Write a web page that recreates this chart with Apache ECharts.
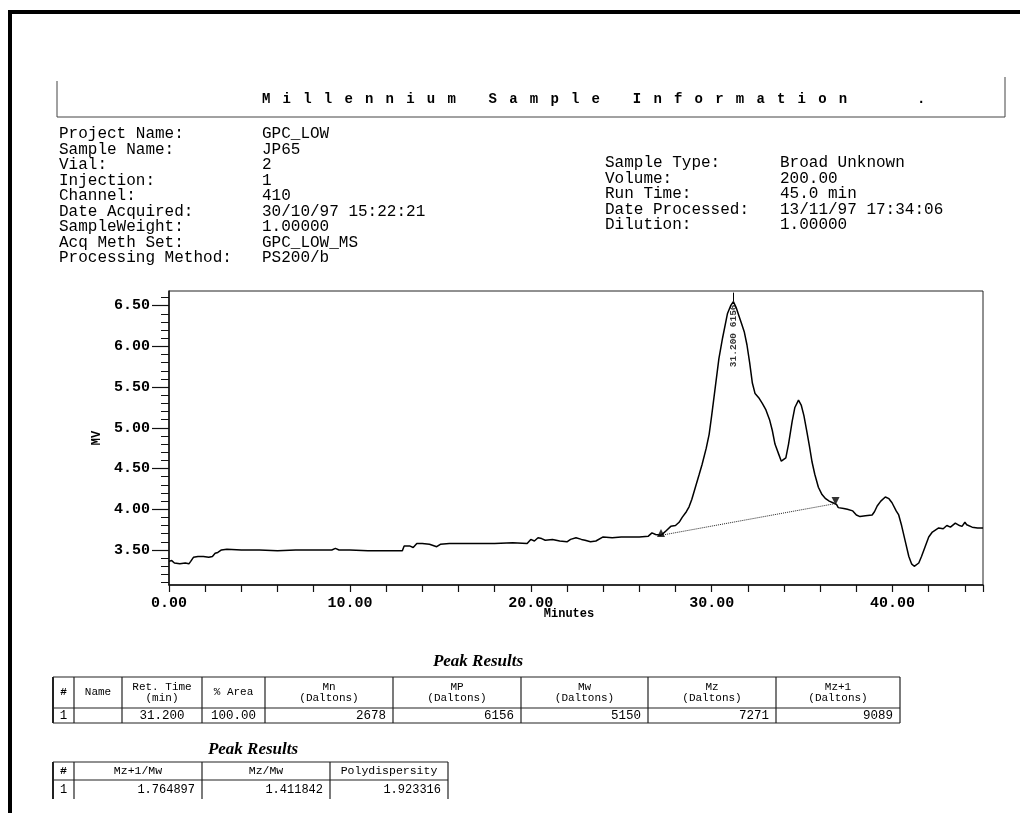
<!DOCTYPE html>
<html>
<head>
<meta charset="utf-8">
<script src="https://cdn.jsdelivr.net/npm/echarts@6/dist/echarts.min.js"></script>
<style>
html,body{margin:0;padding:0;background:#fff;}
#main{width:1020px;height:813px;}
</style>
</head>
<body>
<div id="main"></div>
<script>
// ---------- DATA ----------
const reportTitle = 'Millennium Sample Information';
const infoLabelsLeft = ['Project Name:', 'Sample Name:', 'Vial:', 'Injection:', 'Channel:', 'Date Acquired:', 'SampleWeight:', 'Acq Meth Set:', 'Processing Method:'];
const infoValuesLeft = ['GPC_LOW', 'JP65', '2', '1', '410', '30/10/97 15:22:21', '1.00000', 'GPC_LOW_MS', 'PS200/b'];
const infoLabelsRight = ['Sample Type:', 'Volume:', 'Run Time:', 'Date Processed:', 'Dilution:'];
const infoValuesRight = ['Broad Unknown', '200.00', '45.0 min', '13/11/97 17:34:06', '1.00000'];

const timeMin = [0.00,0.15,0.30,0.60,0.90,1.10,1.20,1.35,1.60,1.90,2.20,2.40,2.55,2.70,2.90,3.20,4.00,5.00,6.00,7.00,8.00,9.00,9.20,9.40,10.00,11.00,12.00,12.90,13.00,13.30,13.50,13.70,14.00,14.40,14.80,15.00,15.50,16.00,17.00,18.00,19.00,19.80,20.00,20.20,20.40,20.60,20.80,21.20,21.60,22.00,22.20,22.50,22.80,23.00,23.30,23.60,24.00,24.50,25.00,25.50,26.00,26.50,26.70,26.90,27.20,27.50,27.74,28.00,28.20,28.37,28.60,28.75,28.90,29.10,29.30,29.47,29.70,29.86,30.00,30.20,30.40,30.60,30.87,31.05,31.20,31.35,31.50,31.65,31.80,31.95,32.10,32.25,32.40,32.60,32.80,33.00,33.20,33.35,33.50,33.70,33.85,33.95,34.10,34.25,34.45,34.60,34.80,34.95,35.10,35.25,35.40,35.55,35.70,35.90,36.10,36.30,36.50,36.70,36.90,37.00,37.30,37.50,37.80,38.00,38.20,38.50,38.87,39.00,39.15,39.35,39.60,39.80,39.97,40.20,40.34,40.50,40.71,40.90,41.05,41.20,41.45,41.60,41.80,42.00,42.20,42.55,42.80,43.00,43.20,43.47,43.70,43.84,44.00,44.10,44.40,44.70,45.00];
const signalMV = [3.36,3.37,3.34,3.33,3.34,3.33,3.36,3.41,3.42,3.42,3.41,3.42,3.46,3.47,3.50,3.51,3.50,3.50,3.49,3.50,3.50,3.50,3.52,3.50,3.50,3.49,3.49,3.49,3.55,3.55,3.53,3.58,3.58,3.57,3.54,3.57,3.58,3.58,3.58,3.58,3.59,3.58,3.63,3.61,3.65,3.64,3.62,3.63,3.61,3.60,3.63,3.65,3.63,3.62,3.60,3.61,3.66,3.65,3.66,3.66,3.66,3.67,3.71,3.69,3.68,3.74,3.79,3.80,3.84,3.90,3.97,4.03,4.12,4.27,4.42,4.55,4.75,4.92,5.15,5.50,5.85,6.10,6.40,6.50,6.55,6.48,6.38,6.28,6.18,6.02,5.80,5.55,5.42,5.37,5.30,5.22,5.10,4.97,4.80,4.68,4.59,4.57,4.63,4.80,5.08,5.25,5.34,5.28,5.15,4.97,4.78,4.58,4.43,4.27,4.18,4.13,4.10,4.08,4.06,4.02,4.01,4.00,3.98,3.93,3.91,3.92,3.93,3.97,4.04,4.10,4.15,4.13,4.08,3.98,3.93,3.80,3.60,3.42,3.33,3.30,3.34,3.42,3.54,3.66,3.72,3.77,3.76,3.80,3.78,3.83,3.80,3.79,3.84,3.81,3.78,3.77,3.77];

const baselineStart = [27.2, 3.68];
const baselineEnd = [36.85, 4.07];
const peakRetTime = 31.2;
const peakApex = 6.55;
const peakLabel = '31.200 6156';

const xLabelTicks = [0, 10, 20, 30, 40];
const yMajorTicks = [3.50, 4.00, 4.50, 5.00, 5.50, 6.00, 6.50];
const yMinorTicks = [3.1,3.2,3.3,3.4,3.6,3.7,3.8,3.9,4.1,4.2,4.3,4.4,4.6,4.7,4.8,4.9,5.1,5.2,5.3,5.4,5.6,5.7,5.8,5.9,6.1,6.2,6.3,6.4,6.6];

const table1Title = 'Peak Results';
const table1Headers = ['#', 'Name', 'Ret. Time\n(min)', '% Area', 'Mn\n(Daltons)', 'MP\n(Daltons)', 'Mw\n(Daltons)', 'Mz\n(Daltons)', 'Mz+1\n(Daltons)'];
const table1Row = ['1', '', '31.200', '100.00', '2678', '6156', '5150', '7271', '9089'];
const table2Title = 'Peak Results';
const table2Headers = ['#', 'Mz+1/Mw', 'Mz/Mw', 'Polydispersity'];
const table2Row = ['1', '1.764897', '1.411842', '1.923316'];

// ---------- LAYOUT ----------
const INK = '#000';
const MONO = '"Liberation Mono","DejaVu Sans Mono",monospace';
const g = [];

// document frame
g.push({type:'rect', shape:{x:8, y:10, width:1012, height:4}, style:{fill:'#000'}});
g.push({type:'rect', shape:{x:8, y:10, width:4, height:803}, style:{fill:'#000'}});
// header box
g.push({type:'polyline', shape:{points:[[57,81],[57,117],[1005,117],[1005,77]]}, style:{stroke:'#444', lineWidth:1, fill:null}});
// header title (letter-spaced)
for (let i = 0; i < reportTitle.length; i++) {
  const ch = reportTitle[i];
  if (ch === ' ') continue;
  g.push({type:'text', x:262 + i*20.6, y:99, style:{text:ch, font:'bold 14px ' + MONO, fill:INK, textVerticalAlign:'middle'}});
}
g.push({type:'text', x:917, y:99, style:{text:'.', font:'bold 14px ' + MONO, fill:INK, textVerticalAlign:'middle'}});

// info blocks
infoLabelsLeft.forEach((t, i) => {
  g.push({type:'text', x:59, y:134 + i*15.5, style:{text:t, font:'16px ' + MONO, fill:INK, textVerticalAlign:'middle'}});
  g.push({type:'text', x:262, y:134 + i*15.5, style:{text:infoValuesLeft[i], font:'16px ' + MONO, fill:INK, textVerticalAlign:'middle'}});
});
infoLabelsRight.forEach((t, i) => {
  g.push({type:'text', x:605, y:163 + i*15.5, style:{text:t, font:'16px ' + MONO, fill:INK, textVerticalAlign:'middle'}});
  g.push({type:'text', x:780, y:163 + i*15.5, style:{text:infoValuesRight[i], font:'16px ' + MONO, fill:INK, textVerticalAlign:'middle'}});
});

// Minutes label
g.push({type:'text', x:569, y:614, style:{text:'Minutes', font:'bold 12px ' + MONO, fill:INK, textAlign:'center', textVerticalAlign:'middle'}});

// tables
function drawTable(title, titleX, titleY, cols, top, sep, bottom, vBottom, headers, row, hFont, vFont, rightAlignFrom, centerCols) {
  g.push({type:'text', x:titleX, y:titleY, style:{text:title, font:'italic bold 17px "Liberation Serif","DejaVu Serif",serif', fill:INK, textAlign:'center', textVerticalAlign:'middle'}});
  const x0 = cols[0], xn = cols[cols.length-1];
  const lines = [[top],[sep]];
  if (bottom) lines.push([bottom]);
  lines.forEach(l => g.push({type:'line', shape:{x1:x0, y1:l[0], x2:xn, y2:l[0]}, style:{stroke:'#222', lineWidth:1.2}}));
  cols.forEach((c, k) => g.push({type:'line', shape:{x1:c, y1:top, x2:c, y2:vBottom}, style:{stroke:'#222', lineWidth:k===0?2:1.2}}));
  for (let k = 0; k < cols.length - 1; k++) {
    const cx = (cols[k] + cols[k+1]) / 2;
    g.push({type:'text', x:cx, y:(top+sep)/2, style:{text:headers[k], font:(k===0?'bold ':'') + hFont, fill:INK, textAlign:'center', textVerticalAlign:'middle', lineHeight:11}});
    const rowY = (sep + (bottom || vBottom)) / 2;
    if (k >= rightAlignFrom) {
      g.push({type:'text', x:cols[k+1] - 7, y:rowY, style:{text:row[k], font:vFont, fill:INK, textAlign:'right', textVerticalAlign:'middle'}});
    } else {
      g.push({type:'text', x:cx, y:rowY, style:{text:row[k], font:vFont, fill:INK, textAlign:'center', textVerticalAlign:'middle'}});
    }
  }
}
drawTable(table1Title, 478, 662, [53,74,122,202,265,393,521,648,776,900], 677, 708, 723, 723,
  table1Headers, table1Row, '11px ' + MONO, '12.5px ' + MONO, 4, [0,2,3]);
drawTable(table2Title, 253, 750, [53,74,202,330,448], 762, 780, null, 799,
  table2Headers, table2Row, '11.5px ' + MONO, '12px ' + MONO, 1, [0]);

// ---------- CHART ----------
const chart = echarts.init(document.getElementById('main'), null, {renderer:'canvas', width:1020, height:813});
const trace = timeMin.map((t, i) => [t, signalMV[i]]);

chart.setOption({
  animation: false,
  backgroundColor: '#fff',
  grid: {left:169, top:291, right:37, bottom:228, show:true, borderColor:'#222', borderWidth:1, backgroundColor:'transparent'},
  xAxis: {
    type:'value', min:0, max:45, interval:2,
    axisLine:{show:true, lineStyle:{color:'#111', width:1.5}},
    axisTick:{show:true, length:7, inside:false, lineStyle:{color:'#111', width:1.2}},
    axisLabel:{show:true, margin:11, color:INK, fontFamily:'Liberation Mono', fontWeight:'bold', fontSize:15,
      formatter: v => xLabelTicks.indexOf(v) >= 0 ? v.toFixed(2) : ''},
    splitLine:{show:false}
  },
  yAxis: [{
    type:'value', min:3.07, max:6.68,
    name:'MV', nameLocation:'middle', nameGap:63, nameRotate:90,
    nameTextStyle:{color:INK, fontFamily:'Liberation Mono', fontWeight:'bold', fontSize:12},
    axisLine:{show:true, lineStyle:{color:'#111', width:1.5}},
    axisTick:{show:true, length:17, customValues:yMajorTicks, lineStyle:{color:'#111', width:1.2}},
    axisLabel:{show:true, margin:19, customValues:yMajorTicks, color:INK, fontFamily:'Liberation Mono', fontWeight:'bold', fontSize:15,
      formatter: v => v.toFixed(2)},
    splitLine:{show:false}
  }, {
    type:'value', min:3.07, max:6.68, position:'left', offset:0,
    axisLine:{show:false},
    axisTick:{show:true, length:8, customValues:yMinorTicks, lineStyle:{color:'#111', width:1}},
    axisLabel:{show:false},
    splitLine:{show:false}
  }],
  series: [{
    type:'line', data:trace, symbol:'none', silent:true,
    lineStyle:{color:'#000', width:1.5},
    markLine:{silent:true, symbol:'none', label:{show:false},
      lineStyle:{color:'#000', width:1, type:'solid'},
      data:[[{coord:[peakRetTime, peakApex]}, {coord:[peakRetTime, 6.66]}]]}
  }, {
    type:'line', data:[baselineStart, baselineEnd], symbol:'none', silent:true,
    lineStyle:{color:'#222', width:1, type:'dotted'}
  }, {
    type:'scatter', silent:true, symbol:'triangle', symbolSize:8,
    itemStyle:{color:'#000'},
    data:[{value:[baselineStart[0], baselineStart[1]+0.03]}, {value:[baselineEnd[0], baselineEnd[1]+0.03], symbolRotate:180}]
  }, {
    type:'scatter', silent:true, symbolSize:0,
    data:[[peakRetTime, 6.13]],
    label:{show:true, position:'inside', rotate:90, formatter:peakLabel, color:INK,
      fontFamily:'Liberation Mono', fontWeight:'bold', fontSize:9.5}
  }],
  graphic: g
});
</script>
</body>
</html>
